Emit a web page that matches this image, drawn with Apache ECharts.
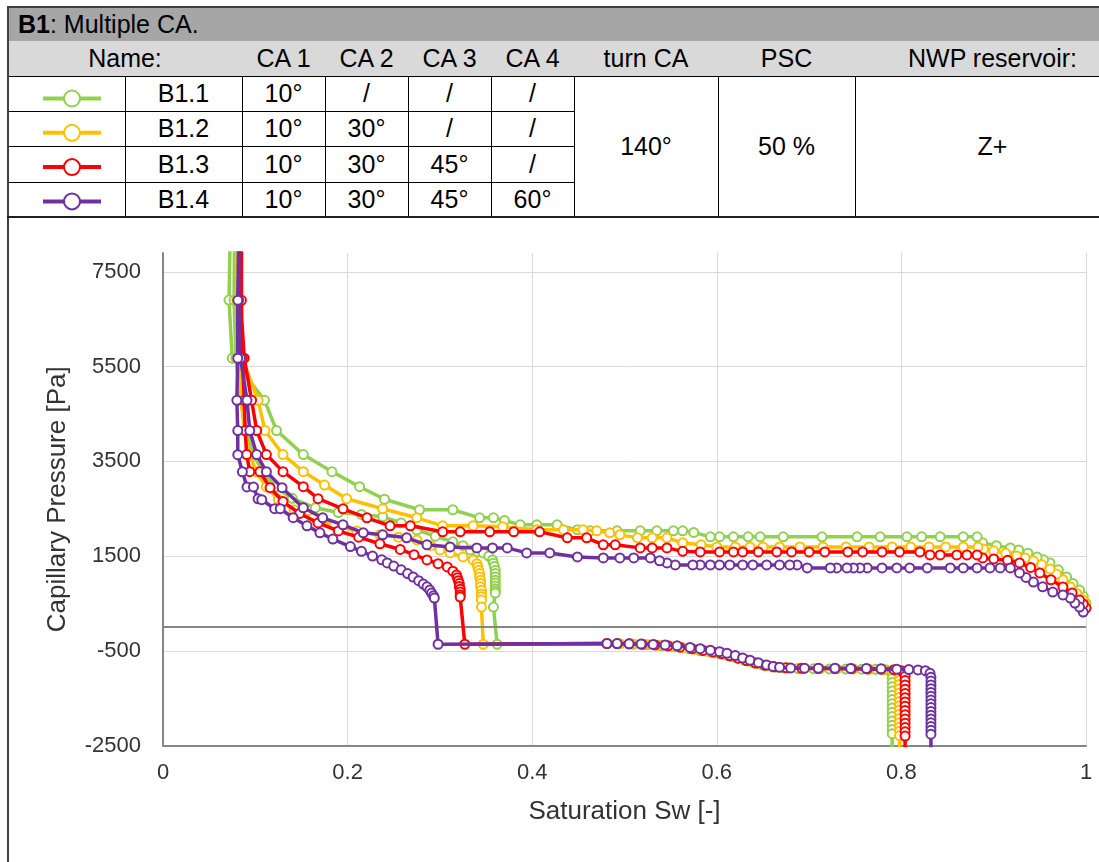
<!DOCTYPE html>
<html>
<head>
<meta charset="utf-8">
<script src="https://cdn.jsdelivr.net/npm/echarts@6/dist/echarts.min.js"></script>
<style>
  html, body { margin: 0; padding: 0; background: #fff; overflow: hidden; }
  #page { position: relative; width: 1099px; height: 862px; overflow: hidden; font-family: "Liberation Sans", Arial, sans-serif; }
  .cell { position: absolute; box-sizing: border-box; border-right: 1px solid #000; border-bottom: 1px solid #000;
          display: flex; align-items: center; justify-content: center; font-size: 25px; color: #000; white-space: nowrap; }
  #chart { position: absolute; left: 0; top: 0; width: 1099px; height: 862px; }
</style>
</head>
<body>
<div id="page">
  <div id="table"></div>
  <div id="chart"></div>
</div>
<script>
// ---------------- table content ----------------
const tableTitleBold = 'B1';
const tableTitleRest = ': Multiple CA.';
const headers = ['Name:', 'CA 1', 'CA 2', 'CA 3', 'CA 4', 'turn CA', 'PSC', 'NWP reservoir:'];
const seriesNames = ['B1.1', 'B1.2', 'B1.3', 'B1.4'];
const seriesColors = ['#92d050', '#ffc000', '#ff0000', '#7030a0'];
const ca1 = ['10°', '10°', '10°', '10°'];
const ca2 = ['/', '30°', '30°', '30°'];
const ca3 = ['/', '/', '45°', '45°'];
const ca4 = ['/', '/', '/', '60°'];
const sharedValues = ['140°', '50 %', 'Z+'];

// ---------------- axis ticks ----------------
const xTicks = [0, 0.2, 0.4, 0.6, 0.8, 1];
const yTicks = [-2500, -500, 1500, 3500, 5500, 7500];
const yMax = 7900;

// ---------------- series data [Sw, Pc] ----------------
// B1.1 (green)
const b11Drain = [[1.0,507],[0.997,650],[0.993,783],[0.986,920],[0.979,1058],[0.970,1210],[0.961,1355],[0.954,1420],[0.947,1482],[0.937,1560],[0.927,1630],[0.918,1673],[0.903,1720],[0.888,1779],[0.882,1906],[0.867,1906],[0.842,1906],[0.822,1906],[0.806,1906],[0.777,1906],[0.752,1906],[0.714,1906],[0.672,1906],[0.647,1906],[0.634,1906],[0.618,1906],[0.603,1906],[0.593,1906],[0.575,2000],[0.563,2033],[0.553,2033],[0.535,2033],[0.517,2033],[0.492,2033],[0.463,2033],[0.449,2054],[0.427,2160],[0.405,2160],[0.387,2160],[0.370,2250],[0.358,2308],[0.343,2308],[0.314,2478],[0.278,2478],[0.240,2700],[0.213,2965],[0.183,3283],[0.152,3643],[0.123,4152],[0.110,4788],[0.075,5680],[0.0715,6907],[0.074,9500]];
const b11Imb = [[0.078,9500],[0.077,6900],[0.079,5680],[0.084,4790],[0.090,4150],[0.098,3640],[0.108,3280],[0.122,2960],[0.140,2720],[0.165,2520],[0.190,2420],[0.215,2380],[0.238,2330],[0.258,2200],[0.275,2050],[0.295,1920],[0.314,1800],[0.325,1720],[0.333,1630],[0.341,1590],[0.347,1567],[0.353,1500],[0.357,1419],[0.358,1350],[0.359,1280],[0.360,1200],[0.360,1130],[0.360,1060],[0.360,990],[0.360,930],[0.360,870],[0.360,810],[0.360,760],[0.360,720],[0.358,423],[0.362,-362]];
const b11Neg = [[0.481,-350],[0.495,-353],[0.510,-360],[0.525,-372],[0.540,-390],[0.555,-415],[0.570,-455],[0.582,-500],[0.593,-530],[0.603,-565],[0.612,-600],[0.621,-650],[0.630,-700],[0.640,-755],[0.650,-805],[0.660,-840],[0.672,-862],[0.688,-875],[0.705,-880],[0.722,-882],[0.740,-885],[0.757,-888],[0.772,-892],[0.783,-900],[0.788,-930],[0.790,-990],[0.790,-1080],[0.790,-1170],[0.790,-1260],[0.790,-1350],[0.790,-1440],[0.790,-1530],[0.790,-1620],[0.790,-1710],[0.790,-1800],[0.790,-1890],[0.790,-1980],[0.790,-2070],[0.790,-2160],[0.790,-2250],[0.790,-2900]];

// B1.2 (yellow)
const b12Drain = [[0.999,500],[0.997,571],[0.990,710],[0.983,847],[0.975,1000],[0.968,1120],[0.961,1228],[0.952,1320],[0.943,1400],[0.934,1460],[0.925,1503],[0.913,1560],[0.900,1610],[0.889,1652],[0.883,1694],[0.867,1694],[0.848,1694],[0.830,1694],[0.810,1694],[0.790,1694],[0.765,1694],[0.740,1694],[0.715,1694],[0.690,1694],[0.668,1694],[0.650,1694],[0.636,1694],[0.620,1694],[0.600,1694],[0.583,1737],[0.563,1780],[0.546,1885],[0.530,1885],[0.514,1885],[0.495,1948],[0.484,1990],[0.470,2033],[0.455,2054],[0.434,2054],[0.405,2054],[0.368,2118],[0.336,2139],[0.303,2139],[0.275,2308],[0.238,2499],[0.199,2711],[0.175,3000],[0.152,3283],[0.130,3643],[0.1105,4152],[0.103,4788],[0.086,5680],[0.080,6900],[0.080,9500]];
const b12Imb = [[0.082,9500],[0.081,6900],[0.082,5680],[0.085,4790],[0.088,4150],[0.094,3640],[0.101,3280],[0.112,2960],[0.125,2700],[0.142,2480],[0.162,2300],[0.185,2150],[0.210,2030],[0.235,1950],[0.255,1900],[0.275,1842],[0.290,1720],[0.300,1630],[0.311,1567],[0.325,1482],[0.336,1419],[0.340,1340],[0.341,1270],[0.342,1200],[0.343,1130],[0.343,1058],[0.344,990],[0.344,920],[0.344,850],[0.345,780],[0.345,700],[0.345,640],[0.345,571],[0.345,423],[0.347,-362]];
const b12Neg = [[0.481,-348],[0.494,-351],[0.508,-357],[0.522,-367],[0.536,-383],[0.550,-405],[0.563,-435],[0.576,-470],[0.588,-505],[0.598,-540],[0.607,-575],[0.616,-620],[0.625,-670],[0.634,-720],[0.644,-770],[0.654,-815],[0.664,-845],[0.678,-866],[0.695,-874],[0.712,-877],[0.730,-880],[0.748,-884],[0.765,-888],[0.780,-895],[0.792,-910],[0.797,-950],[0.798,-1030],[0.798,-1120],[0.798,-1210],[0.798,-1300],[0.798,-1390],[0.798,-1480],[0.798,-1570],[0.798,-1660],[0.798,-1750],[0.798,-1840],[0.798,-1930],[0.798,-2020],[0.798,-2110],[0.798,-2200],[0.798,-2290],[0.798,-2900]];

// B1.3 (red)
const b13Drain = [[1.0,402],[0.997,490],[0.993,571],[0.985,720],[0.975,847],[0.962,1000],[0.950,1143],[0.940,1260],[0.928,1355],[0.915,1410],[0.900,1440],[0.888,1461],[0.882,1524],[0.871,1524],[0.860,1524],[0.842,1524],[0.831,1524],[0.820,1588],[0.798,1588],[0.779,1588],[0.758,1588],[0.742,1588],[0.717,1588],[0.700,1588],[0.681,1588],[0.665,1588],[0.645,1588],[0.628,1588],[0.618,1588],[0.603,1588],[0.582,1588],[0.563,1600],[0.546,1673],[0.530,1673],[0.517,1673],[0.490,1737],[0.477,1737],[0.459,1885],[0.438,1885],[0.408,2012],[0.380,2012],[0.354,2012],[0.322,2012],[0.303,2012],[0.268,2139],[0.246,2139],[0.221,2308],[0.195,2499],[0.168,2711],[0.152,2965],[0.130,3283],[0.112,3643],[0.1015,4152],[0.096,4788],[0.088,5680],[0.084,6900],[0.085,9500]];
const b13Imb = [[0.087,9500],[0.085,6900],[0.086,5680],[0.088,4790],[0.089,4150],[0.0907,3643],[0.094,3283],[0.105,3283],[0.116,2944],[0.130,2650],[0.148,2400],[0.168,2200],[0.190,2030],[0.212,1900],[0.235,1760],[0.257,1640],[0.272,1530],[0.286,1419],[0.298,1340],[0.308,1270],[0.314,1180],[0.318,1100],[0.319,1040],[0.320,980],[0.321,920],[0.321,860],[0.322,800],[0.322,740],[0.322,680],[0.322,634],[0.327,-362]];
const b13Neg = [[0.481,-346],[0.492,-349],[0.505,-354],[0.519,-362],[0.533,-376],[0.547,-396],[0.560,-424],[0.573,-458],[0.585,-492],[0.596,-528],[0.605,-562],[0.614,-605],[0.623,-655],[0.632,-705],[0.642,-758],[0.652,-805],[0.662,-838],[0.675,-860],[0.692,-869],[0.710,-872],[0.728,-875],[0.746,-878],[0.763,-882],[0.778,-888],[0.792,-900],[0.800,-920],[0.803,-965],[0.804,-1040],[0.804,-1130],[0.804,-1220],[0.804,-1310],[0.804,-1400],[0.804,-1490],[0.804,-1580],[0.804,-1670],[0.804,-1760],[0.804,-1850],[0.804,-1940],[0.804,-2030],[0.804,-2120],[0.804,-2210],[0.804,-2300],[0.804,-2900]];

// B1.4 (purple)
const b14Drain = [[0.997,317],[0.993,423],[0.988,507],[0.983,613],[0.975,680],[0.964,741],[0.953,850],[0.943,952],[0.935,1050],[0.928,1143],[0.918,1250],[0.907,1250],[0.896,1250],[0.882,1250],[0.867,1250],[0.853,1250],[0.828,1250],[0.809,1250],[0.795,1250],[0.779,1250],[0.763,1250],[0.755,1250],[0.748,1250],[0.741,1250],[0.730,1250],[0.723,1250],[0.698,1250],[0.687,1313],[0.679,1313],[0.668,1313],[0.654,1313],[0.639,1313],[0.628,1313],[0.614,1313],[0.603,1313],[0.593,1313],[0.582,1313],[0.574,1313],[0.555,1313],[0.546,1355],[0.538,1400],[0.528,1461],[0.510,1461],[0.495,1461],[0.477,1461],[0.449,1482],[0.419,1567],[0.394,1567],[0.373,1673],[0.357,1673],[0.340,1673],[0.311,1694],[0.286,1737],[0.264,1885],[0.238,1948],[0.217,1990],[0.195,2160],[0.173,2308],[0.152,2520],[0.129,2944],[0.112,3283],[0.1015,3643],[0.094,4152],[0.091,4788],[0.084,5680],[0.082,6900],[0.083,9500]];
const b14Imb = [[0.085,9500],[0.081,6900],[0.081,5680],[0.080,4790],[0.081,4150],[0.081,3640],[0.086,3280],[0.091,2960],[0.098,2960],[0.103,2710],[0.107,2690],[0.121,2500],[0.127,2500],[0.141,2310],[0.156,2140],[0.170,1990],[0.184,1860],[0.203,1700],[0.215,1600],[0.227,1500],[0.237,1420],[0.243,1355],[0.250,1290],[0.258,1210],[0.265,1130],[0.271,1058],[0.277,980],[0.282,910],[0.286,850],[0.289,783],[0.291,720],[0.293,660],[0.294,613],[0.298,-362]];
const b14Neg = [[0.481,-345],[0.492,-348],[0.505,-352],[0.518,-358],[0.531,-366],[0.544,-378],[0.557,-395],[0.571,-430],[0.582,-455],[0.593,-488],[0.603,-520],[0.611,-552],[0.620,-600],[0.628,-650],[0.636,-700],[0.645,-750],[0.654,-800],[0.661,-830],[0.668,-849],[0.680,-862],[0.695,-868],[0.710,-870],[0.728,-870],[0.745,-872],[0.762,-875],[0.778,-880],[0.795,-888],[0.808,-895],[0.818,-905],[0.826,-920],[0.831,-976],[0.832,-1060],[0.832,-1140],[0.832,-1220],[0.832,-1300],[0.832,-1380],[0.832,-1460],[0.832,-1540],[0.832,-1620],[0.832,-1700],[0.832,-1780],[0.832,-1860],[0.832,-1940],[0.832,-2020],[0.832,-2100],[0.832,-2180],[0.832,-2260],[0.832,-2900]];

const seriesData = [
  b11Drain.concat(b11Imb, b11Neg),
  b12Drain.concat(b12Imb, b12Neg),
  b13Drain.concat(b13Imb, b13Neg),
  b14Drain.concat(b14Imb, b14Neg)
];

// ---------------- build table ----------------
const colX = [8, 125, 242, 325, 408, 491, 574, 718, 855, 1130];
const rowY = [7, 41, 76, 111, 146, 182, 217];
const tbl = document.getElementById('table');
function cell(x0, x1, y0, y1, html, extra) {
  const d = document.createElement('div');
  d.className = 'cell';
  d.style.left = x0 + 'px'; d.style.top = y0 + 'px';
  d.style.width = (x1 - x0 + 1) + 'px'; d.style.height = (y1 - y0 + 1) + 'px';
  if (extra) Object.assign(d.style, extra);
  d.innerHTML = html;
  tbl.appendChild(d);
  return d;
}
// title
cell(colX[0], colX[9], rowY[0], rowY[1], '<b>' + tableTitleBold + '</b>' + tableTitleRest,
  { background: '#a6a6a6', justifyContent: 'flex-start', paddingLeft: '10px', fontSize: '25px' });
// header
cell(colX[0], colX[2], rowY[1], rowY[2], headers[0], { background: '#d9d9d9' });
for (let i = 1; i < headers.length; i++) {
  cell(colX[i + 1], colX[i + 2], rowY[1], rowY[2], headers[i], { background: '#d9d9d9' });
}
// data rows
const cols = [ca1, ca2, ca3, ca4];
for (let r = 0; r < 4; r++) {
  const y0 = rowY[r + 2], y1 = rowY[r + 3];
  cell(colX[0], colX[1], y0, y1, '');
  cell(colX[1], colX[2], y0, y1, seriesNames[r]);
  for (let c = 0; c < 4; c++) cell(colX[c + 2], colX[c + 3], y0, y1, cols[c][r]);
}
for (let k = 0; k < 3; k++) {
  cell(colX[k + 6], colX[k + 7], rowY[2], rowY[6], sharedValues[k]);
}
// outer frame lines
function line(x, y, w, h, color) {
  const d = document.createElement('div');
  d.style.cssText = 'position:absolute;left:' + x + 'px;top:' + y + 'px;width:' + w + 'px;height:' + h + 'px;background:' + color;
  tbl.appendChild(d);
}
line(7, 6, 1120, 2, '#404040');      // top
line(7, 6, 2, 856, '#404040');       // left frame down to bottom
line(7, 216, 1120, 2, '#202020');    // table bottom

// ---------------- chart ----------------
const chart = echarts.init(document.getElementById('chart'), null, { renderer: 'canvas' });
const axisColor = '#868686';
const textColor = '#333333';
const series = seriesNames.map((name, i) => {
  const s = {
    name: name,
    type: 'line',
    data: seriesData[i],
    symbol: 'emptyCircle',
    symbolSize: 9,
    showAllSymbol: true,
    smooth: false,
    clip: true,
    color: seriesColors[i],
    lineStyle: { width: 3.5, color: seriesColors[i] },
    itemStyle: { color: seriesColors[i], borderColor: seriesColors[i], borderWidth: 2 },
    emphasis: { disabled: true },
    z: 3 + i
  };
  if (i === 0) {
    s.markLine = {
      silent: true,
      symbol: ['none', 'none'],
      label: { show: false },
      lineStyle: { color: axisColor, width: 2, type: 'solid' },
      data: [{ yAxis: 0 }],
      animation: false
    };
  }
  return s;
});

chart.setOption({
  animation: false,
  backgroundColor: 'transparent',
  textStyle: { fontFamily: '"Liberation Sans", Arial, sans-serif' },
  grid: { left: 163, right: 13, top: 253, bottom: 116.5, containLabel: false },
  legend: {
    data: seriesNames,
    orient: 'vertical',
    left: 36,
    top: 83.5,
    itemWidth: 58,
    itemHeight: 20,
    itemGap: 15.3,
    selectedMode: false,
    formatter: function () { return ''; },
    textStyle: { fontSize: 1 },
    lineStyle: { width: 4 }
  },
  xAxis: {
    type: 'value',
    min: xTicks[0],
    max: xTicks[xTicks.length - 1],
    interval: xTicks[1] - xTicks[0],
    name: 'Saturation Sw [-]',
    nameLocation: 'middle',
    nameGap: 53,
    nameTextStyle: { fontSize: 26, color: textColor },
    axisLine: { show: true, onZero: false, lineStyle: { color: axisColor, width: 2 } },
    axisTick: { show: false },
    axisLabel: { fontSize: 22, color: textColor, margin: 16, formatter: function (v) { return String(v); } },
    splitLine: { show: true, showMinLine: false, lineStyle: { color: '#d9d9d9', width: 1 } }
  },
  yAxis: {
    type: 'value',
    min: yTicks[0],
    max: yMax,
    interval: yTicks[1] - yTicks[0],
    name: 'Capillary Pressure [Pa]',
    nameLocation: 'middle',
    nameRotate: 90,
    nameGap: 92,
    nameTextStyle: { fontSize: 26, color: textColor },
    axisLine: { show: true, onZero: false, lineStyle: { color: axisColor, width: 2 } },
    axisTick: { show: false },
    axisLabel: { fontSize: 22, color: textColor, margin: 22, showMaxLabel: false, formatter: function (v) { return String(v); } },
    splitLine: { show: true, showMinLine: false, showMaxLine: false, lineStyle: { color: '#d9d9d9', width: 1 } }
  },
  series: series
});
</script>
</body>
</html>
